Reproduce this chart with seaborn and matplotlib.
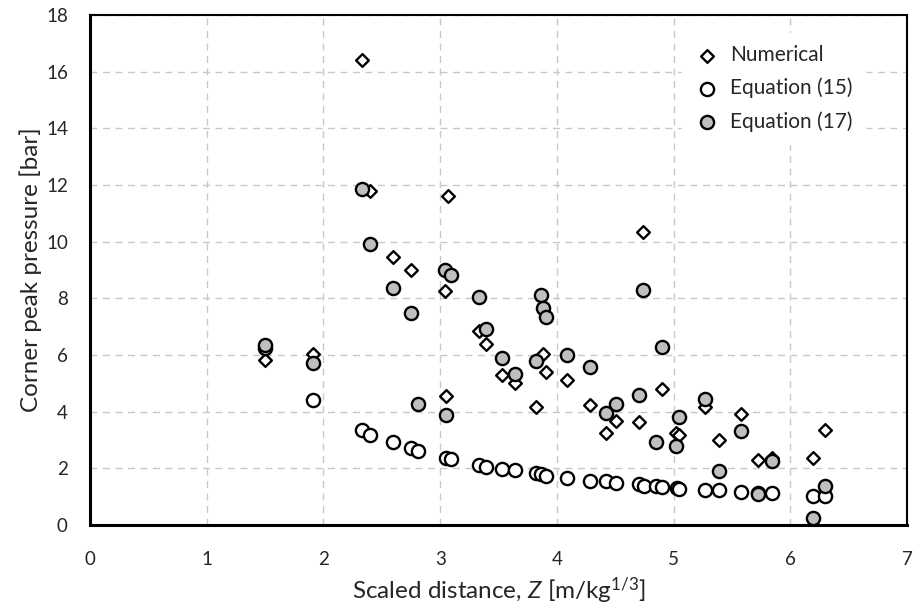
import numpy as np
import pandas as pd
import seaborn as sns
import matplotlib.pyplot as plt
from matplotlib.ticker import MultipleLocator

# --- data ---
z_num = [1.50, 1.91, 2.33, 2.40, 2.60, 2.75, 3.04, 3.05, 3.07, 3.33, 3.39, 3.53, 3.64,
         3.82, 3.88, 3.91, 4.09, 4.28, 4.42, 4.51, 4.70, 4.74, 4.90, 5.02, 5.05, 5.27,
         5.39, 5.58, 5.72, 5.84, 6.19, 6.30]
p_num = [5.83, 6.02, 16.40, 11.80, 9.47, 9.00, 8.27, 4.57, 11.62, 6.86, 6.39, 5.28, 5.00,
         4.17, 6.02, 5.40, 5.11, 4.22, 3.25, 3.66, 3.64, 10.35, 4.81, 3.25, 3.17, 4.17,
         3.01, 3.90, 2.28, 2.36, 2.38, 3.37]

z_eq15 = [1.50, 1.91, 2.33, 2.40, 2.60, 2.75, 2.81, 3.05, 3.09, 3.33, 3.39, 3.53, 3.64,
          3.82, 3.86, 3.91, 4.09, 4.28, 4.42, 4.51, 4.70, 4.75, 4.85, 4.90, 5.03, 5.05,
          5.27, 5.39, 5.58, 5.72, 5.84, 6.19, 6.30]
p_eq15 = [6.25, 4.40, 3.37, 3.18, 2.92, 2.70, 2.61, 2.36, 2.33, 2.10, 2.05, 1.97, 1.93,
          1.83, 1.80, 1.74, 1.66, 1.57, 1.54, 1.48, 1.44, 1.38, 1.38, 1.34, 1.30, 1.28,
          1.24, 1.22, 1.16, 1.12, 1.12, 1.03, 1.03]

z_eq17 = [1.50, 1.91, 2.33, 2.40, 2.60, 2.75, 2.81, 3.04, 3.05, 3.09, 3.33, 3.39, 3.53,
          3.64, 3.82, 3.86, 3.88, 3.91, 4.09, 4.28, 4.42, 4.51, 4.70, 4.74, 4.85, 4.90,
          5.02, 5.05, 5.27, 5.39, 5.58, 5.72, 5.84, 6.19, 6.30]
p_eq17 = [6.35, 5.71, 11.85, 9.93, 8.37, 7.49, 4.27, 9.00, 3.88, 8.84, 8.06, 6.90, 5.91,
          5.34, 5.78, 8.12, 7.67, 7.35, 6.00, 5.57, 3.96, 4.26, 4.59, 8.30, 2.92, 6.28,
          2.78, 3.80, 4.46, 1.89, 3.33, 1.09, 2.25, 0.24, 1.36]

sns.set_style("white")
plt.rcParams['font.family'] = ['Lato', 'DejaVu Sans']
plt.rcParams['mathtext.fontset'] = 'custom'
plt.rcParams['mathtext.rm'] = 'Lato'
plt.rcParams['mathtext.it'] = 'Lato:italic'

fig = plt.figure(figsize=(9.15, 6.04), dpi=100)
ax = fig.add_axes([0.0984, 0.1308, 0.8929, 0.8444])

sns.scatterplot(x=z_num, y=p_num, ax=ax, marker="D", s=42, color="white",
                edgecolor="black", linewidth=1.7, label="Numerical", zorder=3)
sns.scatterplot(x=z_eq15, y=p_eq15, ax=ax, marker="o", s=90, color="white",
                edgecolor="black", linewidth=1.7, label="Equation (15)", zorder=4)
sns.scatterplot(x=z_eq17, y=p_eq17, ax=ax, marker="o", s=90, color="#bfbfbf",
                edgecolor="black", linewidth=1.7, label="Equation (17)", zorder=5)

ax.set_xlim(0, 7)
ax.set_ylim(0, 18)
ax.xaxis.set_major_locator(MultipleLocator(1))
ax.xaxis.set_minor_locator(MultipleLocator(0.2))
ax.yaxis.set_major_locator(MultipleLocator(2))
ax.yaxis.set_minor_locator(MultipleLocator(0.4))
ax.tick_params(which="both", direction="in", length=6, width=1.3, color="black")
ax.tick_params(axis="x", which="major", pad=19, labelsize=13.5)
ax.tick_params(axis="y", which="major", pad=16, labelsize=13.5)
ax.tick_params(top=False, right=False)

ax.grid(True, which="major", color="#c8c8c8", linestyle=(0, (5, 4)), linewidth=1)
ax.set_axisbelow(True)
for sp in ax.spines.values():
    sp.set_color("black")
    sp.set_linewidth(1.5)
ax.spines["bottom"].set_linewidth(2.2)
ax.spines["left"].set_linewidth(2.2)

ax.set_xlabel(r"Scaled distance, $\mathit{Z}$ [m/kg$^{1/3}$]", fontsize=17.5, labelpad=5)
ax.set_ylabel("Corner peak pressure [bar]", fontsize=17.5, labelpad=3)

leg = ax.legend(loc="upper left", bbox_to_anchor=(0.725, 0.965), fontsize=15,
                frameon=True, fancybox=False, framealpha=1, facecolor="white",
                edgecolor="white", handletextpad=0.5, labelspacing=0.6,
                borderpad=0.6, handlelength=1.2, borderaxespad=0)

fig.savefig("out.png", dpi=100)
